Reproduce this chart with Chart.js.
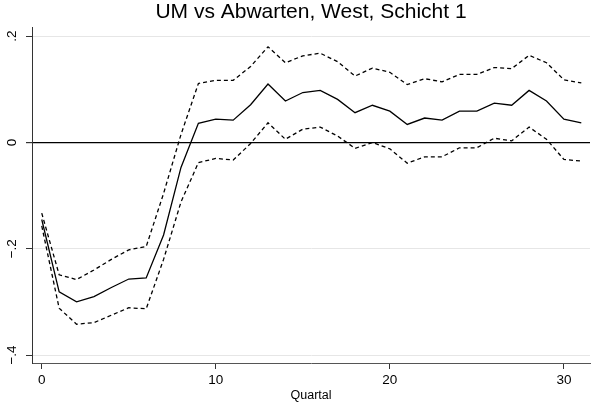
<!DOCTYPE html>
<html>
<head>
<meta charset="utf-8">
<script src="https://cdn.jsdelivr.net/npm/chart.js@4"></script>
<style>
  html, body { margin: 0; padding: 0; background: #fff; }
  #wrap { width: 592px; height: 406px; }
</style>
</head>
<body>
<div id="wrap"><canvas id="c" width="592" height="406"></canvas></div>
<script>
const quarters = [0,1,2,3,4,5,6,7,8,9,10,11,12,13,14,15,16,17,18,19,20,21,22,23,24,25,26,27,28,29,30,31];
const estimate = [-0.145,-0.281,-0.300,-0.290,-0.273,-0.257,-0.255,-0.174,-0.047,0.036,0.044,0.042,0.071,0.110,0.078,0.094,0.098,0.081,0.056,0.070,0.059,0.034,0.046,0.042,0.059,0.059,0.074,0.070,0.098,0.078,0.044,0.037];
const upper = [-0.133,-0.249,-0.258,-0.240,-0.220,-0.202,-0.196,-0.096,0.015,0.111,0.117,0.117,0.143,0.180,0.150,0.163,0.168,0.152,0.125,0.140,0.132,0.109,0.120,0.114,0.128,0.128,0.141,0.139,0.164,0.150,0.118,0.112];
const lower = [-0.157,-0.312,-0.342,-0.339,-0.325,-0.311,-0.313,-0.220,-0.112,-0.038,-0.030,-0.033,-0.002,0.037,0.006,0.025,0.029,0.012,-0.011,0.000,-0.012,-0.039,-0.027,-0.027,-0.010,-0.010,0.008,0.003,0.029,0.006,-0.032,-0.035];
const xTicks = [0, 10, 20, 30];
const yTicks = [-0.4, -0.2, 0, 0.2];

const FONT = "'Liberation Sans', Arial, sans-serif";
const pts = (arr) => quarters.map((q, i) => ({ x: q, y: arr[i] }));
const fmtY = (v) => v === 0 ? "0" : (v < 0 ? "\u2212" : "") + String(Math.abs(v)).replace(/^0\./, ".");

// Stata draws y labels turned on their side
const yLabels = {
  id: "yLabels",
  afterDraw(chart) {
    const ctx = chart.ctx;
    const y = chart.scales.y;
    ctx.save();
    ctx.fillStyle = "#000";
    ctx.font = "13.5px " + FONT;
    ctx.textAlign = "center";
    ctx.textBaseline = "middle";
    yTicks.forEach((v) => {
      ctx.save();
      ctx.translate(12, y.getPixelForValue(v));
      ctx.rotate(-Math.PI / 2);
      ctx.fillText(fmtY(v), 0, 0);
      ctx.restore();
    });
    ctx.restore();
  }
};

const line = (data, dashed) => ({
  data: data,
  borderColor: "#000",
  borderWidth: 1.3,
  borderDash: dashed ? [4, 3] : [],
  pointRadius: 0,
  tension: 0,
  fill: false
});

new Chart(document.getElementById("c"), {
  type: "line",
  data: {
    datasets: [line(pts(upper), true), line(pts(estimate), false), line(pts(lower), true)]
  },
  options: {
    responsive: false,
    animation: false,
    layout: { padding: { left: 0, right: 2, top: 0, bottom: 0 } },
    plugins: {
      legend: { display: false },
      tooltip: { enabled: false },
      title: {
        display: true,
        text: "UM vs Abwarten, West, Schicht 1",
        fullSize: false,
        color: "#000",
        font: { family: FONT, size: 21, weight: "normal", lineHeight: 1.15 },
        padding: { top: 0, bottom: 3 }
      }
    },
    scales: {
      x: {
        type: "linear",
        min: -0.56,
        max: 31.5,
        afterBuildTicks: (s) => { s.ticks = xTicks.map((v) => ({ value: v })); },
        afterFit: (s) => { s.height = 43; },
        grid: { drawOnChartArea: false, drawTicks: true, tickLength: 6, tickColor: "#333" },
        border: { display: true, color: "#555", width: 1 },
        ticks: { color: "#000", padding: 3, maxRotation: 0, font: { family: FONT, size: 13.5 } },
        title: {
          display: true,
          text: "Quartal",
          color: "#000",
          font: { family: FONT, size: 12.5, lineHeight: 1.2 },
          padding: { top: 0, bottom: 3 }
        }
      },
      y: {
        min: -0.415,
        max: 0.217,
        afterBuildTicks: (s) => { s.ticks = yTicks.map((v) => ({ value: v })); },
        afterFit: (s) => { s.width = 32; },
        grid: {
          drawTicks: true,
          tickLength: 6,
          tickColor: "#333",
          color: (c) => (c.tick && c.tick.value === 0 ? "#000" : "#e6e6e6"),
          lineWidth: (c) => (c.tick && c.tick.value === 0 ? 1.2 : 1)
        },
        border: { display: true, color: "#333", width: 1 },
        ticks: { display: false }
      }
    }
  },
  plugins: [yLabels]
});
</script>
</body>
</html>
